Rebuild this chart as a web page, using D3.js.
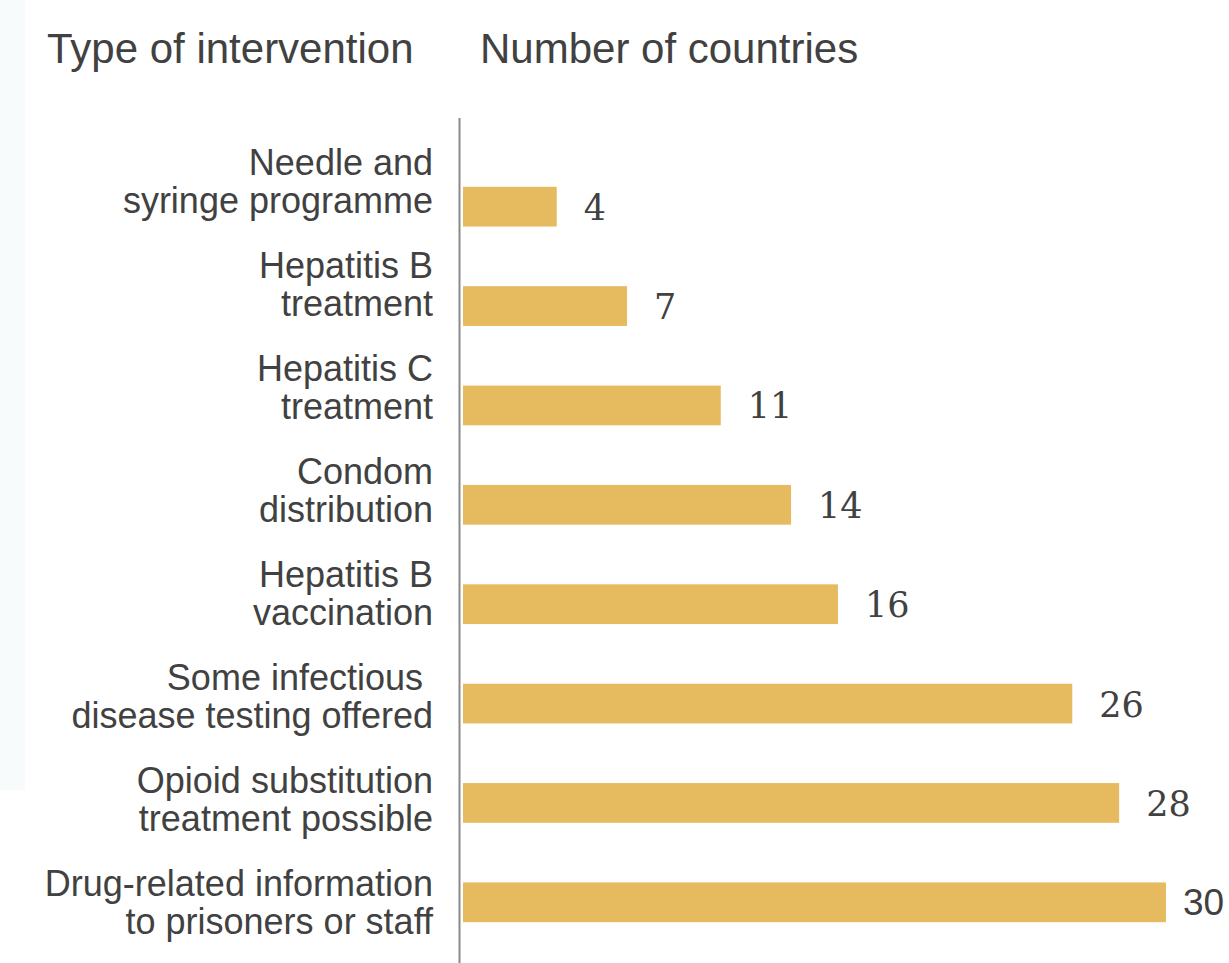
<!DOCTYPE html>
<html>
<head>
<meta charset="utf-8">
<script src="https://cdn.jsdelivr.net/npm/d3@7"></script>
<style>
  body { margin: 0; background: #fff; }
  svg { display: block; }
</style>
</head>
<body>
<script>
const width = 1229;
const height = 963;

// data, top to bottom
const categories = [
    ['Needle and', 'syringe programme'],
    ['Hepatitis B', 'treatment'],
    ['Hepatitis C', 'treatment'],
    ['Condom', 'distribution'],
    ['Hepatitis B', 'vaccination'],
    ['Some infectious ', 'disease testing offered'],
    ['Opioid substitution', 'treatment possible'],
    ['Drug-related information', 'to prisoners or staff']
];
const values = [4, 7, 11, 14, 16, 26, 28, 30];
const headers = ['Type of intervention', 'Number of countries'];

const textColor = '#414141';
const barColor = '#e6bb60';
const sans = '"Liberation Sans", Arial, sans-serif';

const svg = d3.select('body').append('svg')
    .attr('width', width)
    .attr('height', height);

// faint strip on the left edge
svg.append('rect')
    .attr('x', 0).attr('y', 0)
    .attr('width', 25).attr('height', 790)
    .attr('fill', '#f8fbfc');

const idx = d3.range(values.length);

const x = d3.scaleLinear()
    .domain([0, 30])
    .range([463, 1166]);

const y = d3.scaleBand()
    .domain(idx)
    .range([157, 952])
    .paddingInner(0.6)
    .paddingOuter(0.3);

// label rows sit on their own spacing (first-line baselines)
const labelY = d3.scalePoint()
    .domain(idx)
    .range([175, 896]);

// headers
svg.append('g')
    .selectAll('text')
    .data(headers)
    .enter().append('text')
    .attr('x', (d, i) => i === 0 ? 47 : 480)
    .attr('y', 63)
    .attr('fill', textColor)
    .style('font-family', sans)
    .style('font-size', '42px')
    .text(d => d);

// bars
svg.append('g')
    .selectAll('rect')
    .data(idx)
    .enter().append('rect')
    .attr('x', x(0))
    .attr('y', i => y(i))
    .attr('width', i => x(values[i]) - x(0))
    .attr('height', y.bandwidth())
    .attr('fill', barColor);

// vertical axis line
svg.append('line')
    .attr('x1', 459.5).attr('x2', 459.5)
    .attr('y1', 118).attr('y2', height)
    .attr('stroke', '#8a8a8a')
    .attr('stroke-width', 2);

// category labels
const lab = svg.append('g')
    .selectAll('text')
    .data(idx)
    .enter().append('text')
    .attr('text-anchor', 'end')
    .attr('fill', textColor)
    .style('font-family', sans)
    .style('font-size', '36px')
    .style('white-space', 'pre');

lab.selectAll('tspan')
    .data(i => categories[i].map(t => ({t: t, i: i})))
    .enter().append('tspan')
    .attr('x', 433)
    .attr('y', (d, k) => labelY(d.i) + k * 38)
    .text(d => d.t);

// value labels
svg.append('g')
    .selectAll('text')
    .data(idx)
    .enter().append('text')
    .attr('x', i => x(values[i]) + (i === values.length - 1 ? 17 : 27))
    .attr('y', i => y(i) + y.bandwidth() / 2 + 13)
    .attr('fill', textColor)
    .style('font-family', i => i === values.length - 1 ? sans : '"DejaVu Serif", serif')
    .style('font-size', i => i === values.length - 1 ? '37px' : '35px')
    .text(i => values[i]);
</script>
</body>
</html>
